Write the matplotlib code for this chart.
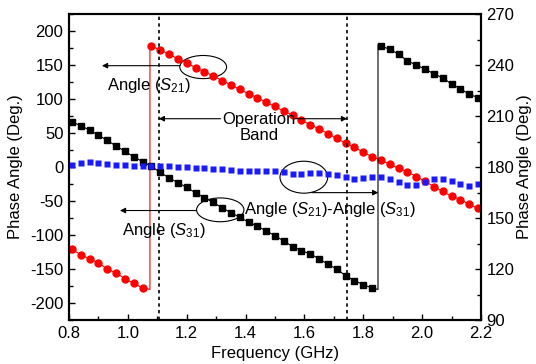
import numpy as np
import matplotlib
matplotlib.use("Agg")
import matplotlib.pyplot as plt
from matplotlib.patches import Ellipse
from matplotlib.ticker import MultipleLocator

plt.rcParams['font.family'] = ['Liberation Sans', 'DejaVu Sans']
plt.rcParams['mathtext.fontset'] = 'custom'
plt.rcParams['mathtext.rm'] = 'Liberation Sans'
plt.rcParams['mathtext.it'] = 'Liberation Sans:italic'
plt.rcParams['axes.unicode_minus'] = False

# sample frequencies (GHz), one marker every 0.03 GHz
freq = [0.81, 0.84, 0.87, 0.90, 0.93, 0.96, 0.99, 1.02, 1.05, 1.08,
        1.11, 1.14, 1.17, 1.20, 1.23, 1.26, 1.29, 1.32, 1.35, 1.38,
        1.41, 1.44, 1.47, 1.50, 1.53, 1.56, 1.59, 1.62, 1.65, 1.68,
        1.71, 1.74, 1.77, 1.80, 1.83, 1.86, 1.89, 1.92, 1.95, 1.98,
        2.01, 2.04, 2.07, 2.10, 2.13, 2.16, 2.19]

# Angle(S21), left axis (deg), wraps at 1.075 GHz
s21_jump = 1.075
s21 = [-121, -129, -135, -141, -150, -156, -164, -171, -178,
       178, 172, 166, 159, 153, 146, 140, 134, 127, 121,
       114, 108, 102, 95, 89, 82, 76, 69, 62, 56,
       49, 42, 35, 29, 22, 15, 10, 4, -2, -7,
       -14, -21, -29, -36, -43, -48, -55, -61]

# Angle(S31), left axis (deg), wraps at 1.85 GHz
s31_jump = 1.85
s31 = [66, 61, 54, 47, 39, 31, 23, 15, 8, 1,
       -8, -16, -23, -30, -38, -45, -52, -60, -67, -74,
       -81, -87, -94, -101, -109, -117, -123, -128, -135, -143,
       -150, -160, -167, -173, -178,
       178, 173, 166, 156, 150, 144, 137, 131, 122, 115, 107, 102]

# Angle(S21) - Angle(S31), right axis (deg)
diff = [181.4, 182.5, 182.8, 182.2, 181.8, 181.4, 181.0, 180.8, 180.7, 180.7,
        180.5, 180.5, 180.2, 180.0, 179.6, 179.2, 178.8, 178.6, 178.2, 177.9,
        177.5, 177.9, 177.9, 177.7, 176.9, 176.0, 176.0, 176.5, 176.7, 175.6,
        175.2, 174.4, 173.2, 173.6, 174.0, 174.4, 173.2, 171.2, 169.6, 169.6,
        171.2, 172.8, 172.8, 171.6, 170.0, 168.8, 170.0]

band = [1.105, 1.745]

freq = np.array(freq)
s21 = np.array(s21)
s31 = np.array(s31)


def wrapped_line(f, y, fj):
    lo = f < fj
    fx = np.r_[f[lo], fj, fj, f[~lo]]
    fy = np.r_[y[lo], -180, 180, y[~lo]]
    return fx, fy


fig = plt.figure(figsize=(5.36, 3.64), dpi=100)
ax = fig.add_axes([69/536, 44/364, 412/536, 306/364])
ax2 = ax.twinx()

fx, fy = wrapped_line(freq, s21, s21_jump)
ax.plot(fx, fy, color='red', lw=0.8)
ax.plot(freq, s21, 'o', color='red', ms=5, mec='red')
fx, fy = wrapped_line(freq, s31, s31_jump)
ax.plot(fx, fy, color='black', lw=0.8)
ax.plot(freq, s31, 's', color='black', ms=3.8)
ax2.plot(freq, diff, 's', color='#1a1aff', ms=4.2, mec='none')

for b in band:
    ax.axvline(b, color='black', lw=1.2, ls=(0, (2, 2)))

ax.set_xlim(0.8, 2.2)
ax.set_ylim(-225, 225)
ax2.set_ylim(90, 270)
ax.xaxis.set_major_locator(MultipleLocator(0.2))
ax.xaxis.set_minor_locator(MultipleLocator(0.1))
ax.yaxis.set_major_locator(MultipleLocator(50))
ax.yaxis.set_minor_locator(MultipleLocator(25))
ax2.yaxis.set_major_locator(MultipleLocator(30))
ax2.yaxis.set_minor_locator(MultipleLocator(15))
ax.xaxis.set_major_formatter(plt.FormatStrFormatter('%.1f'))

for a in (ax, ax2):
    a.tick_params(which='major', direction='in', length=4, width=1,
                  labelsize=12, pad=4)
    a.tick_params(which='minor', direction='in', length=3, width=1)
    for s in a.spines.values():
        s.set_linewidth(1.5)
ax.tick_params(which='both', top=False, right=False)

ax.set_xlabel('Frequency (GHz)', fontsize=12, labelpad=4)
ax.set_ylabel('Phase Angle (Deg.)', fontsize=12, labelpad=5)
ax2.set_ylabel('Phase Angle (Deg.)', fontsize=12, labelpad=2)

arrow = dict(arrowstyle='-|>', color='black', lw=0.8, mutation_scale=8,
             shrinkA=0, shrinkB=0)

# Angle(S21)
ax.add_patch(Ellipse((1.256, 147), 0.159, 34, fill=False, lw=0.8, ec='black'))
ax.annotate('', xy=(0.912, 149), xytext=(1.177, 149), arrowprops=arrow)
ax.text(0.929, 113, r'Angle ($S_{21}$)', fontsize=12, ha='left', va='baseline')

# Operation band
ax.text(1.445, 58, 'Operation\nBand', fontsize=12, ha='center', va='center',
        linespacing=1.05)
ax.annotate('', xy=(band[0], 71), xytext=(1.315, 71), arrowprops=arrow)
ax.annotate('', xy=(band[1], 71), xytext=(1.568, 71), arrowprops=arrow)

# Angle(S31)
ax.add_patch(Ellipse((1.314, -63), 0.161, 35, fill=False, lw=0.8, ec='black'))
ax.annotate('', xy=(0.973, -64), xytext=(1.233, -64), arrowprops=arrow)
ax.text(0.979, -100, r'Angle ($S_{31}$)', fontsize=12, ha='left', va='baseline')

# Angle(S21)-Angle(S31)
ax.add_patch(Ellipse((1.598, -15), 0.162, 47, fill=False, lw=0.8, ec='black'))
ax.annotate('', xy=(1.851, -37.7), xytext=(1.625, -37.7), arrowprops=arrow)
ax.text(1.395, -69.4, r'Angle ($S_{21}$)-Angle ($S_{31}$)', fontsize=12,
        ha='left', va='baseline')

fig.savefig('out.png', dpi=100)
